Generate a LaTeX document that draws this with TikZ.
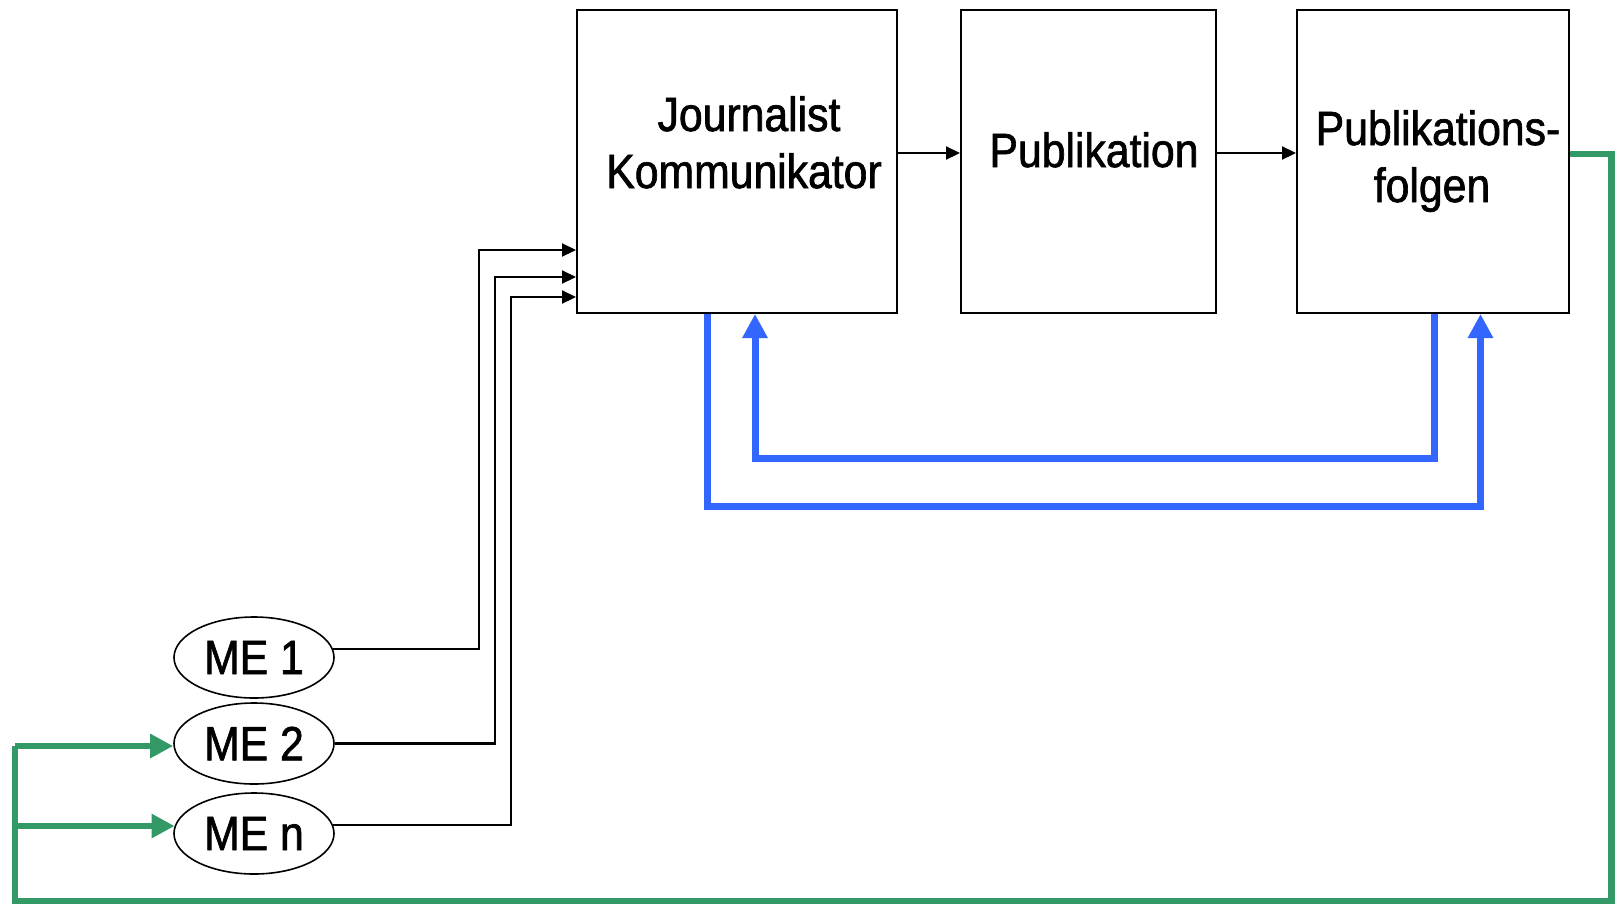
\documentclass[tikz,border=0pt]{standalone}
\usepackage{fontspec}
\setmainfont{Liberation Sans}[FakeStretch=0.89,FakeBold=1.4]
\usetikzlibrary{arrows.meta,shapes.geometric}
\definecolor{fbgreen}{HTML}{339966}
\definecolor{fbblue}{HTML}{3366FF}
\begin{document}
\begin{tikzpicture}[x=1pt,y=-1pt,
  stagebox/.style={draw=black,line width=2pt,rectangle,inner sep=0pt},
  lbl/.style={font=\fontsize{48}{56}\selectfont,inner sep=0pt,anchor=base},
  sourcenode/.style={draw=black,line width=1.6pt,ellipse,inner sep=0pt,
    minimum width=160pt,minimum height=81pt,font=\fontsize{48}{56}\selectfont},
  wire/.style={draw=black,line width=2.2pt,-{Triangle[length=14pt,width=13pt]}},
  bluefb/.style={draw=fbblue,line width=7pt,line join=miter,
    -{Triangle[length=24pt,width=24pt]}},
  greenfb/.style={draw=fbgreen,line width=6.5pt,line join=miter},
  greenarrow/.style={draw=fbgreen,line width=6.5pt,
    -{Triangle[length=23pt,width=23pt]}}]
\useasboundingbox (0,0) rectangle (1615,906);

% stages of the process
\node[stagebox,minimum width=320pt,minimum height=303pt] (j) at (737,161.5) {};
\node[stagebox,minimum width=255pt,minimum height=303pt] (p) at (1088.5,161.5) {};
\node[stagebox,minimum width=272pt,minimum height=303pt] (f) at (1433,161.5) {};

\node[lbl] (jt1) at (749,131) {Journalist};
\node[lbl] (jt2) at (744,188) {Kommunikator};
\node[lbl] (pt) at (1094,167) {Publikation};
\node[lbl] (ft1) at (1438,145) {Publikations-};
\node[lbl] (ft2) at (1432,202) {folgen};

% sources
\node[sourcenode] (me1) at (254,657.5) {ME 1};
\node[sourcenode] (me2) at (254,743.5) {ME 2};
\node[sourcenode] (men) at (254,833.5) {ME n};

% main flow
\coordinate (row) at (0,153);
\draw[wire] (j.east |- row) -- (p.west |- row);
\draw[wire] (p.east |- row) -- (f.west |- row);

% inputs from the sources
\coordinate (k1) at (479,250);
\coordinate (k2) at (495,277);
\coordinate (k3) at (511,297);
\draw[wire] (me1.6) -| (k1) -- (k1 -| j.west);
\draw[wire] (me2.east) -| (k2) -- (k2 -| j.west);
\draw[wire] (men.6) -| (k3) -- (k3 -| j.west);

% feedback loops
\coordinate (a1) at (707,506);
\coordinate (a2) at (1480.5,506);
\draw[bluefb] (j.south -| a1) -- (a1) -- (a2) -- (f.south -| a2);
\coordinate (b1) at (1434,458);
\coordinate (b2) at (755,458);
\draw[bluefb] (f.south -| b1) -- (b1) -- (b2) -- (j.south -| b2);

% feedback to the sources
\coordinate (g1) at (1611.5,154);
\coordinate (g2) at (1611.5,901);
\coordinate (g3) at (15,901);
\coordinate (g4) at (15,746);
\coordinate (g5) at (15,826);
\draw[greenfb] (f.east |- g1) -- (g1) -- (g2) -- (g3) -- (g4);
\draw[greenarrow] (g4) -- (g4 -| me2.west);
\draw[greenarrow] (g5) -- ([xshift=1.4pt]g5 -| men.west);
\end{tikzpicture}
\end{document}
